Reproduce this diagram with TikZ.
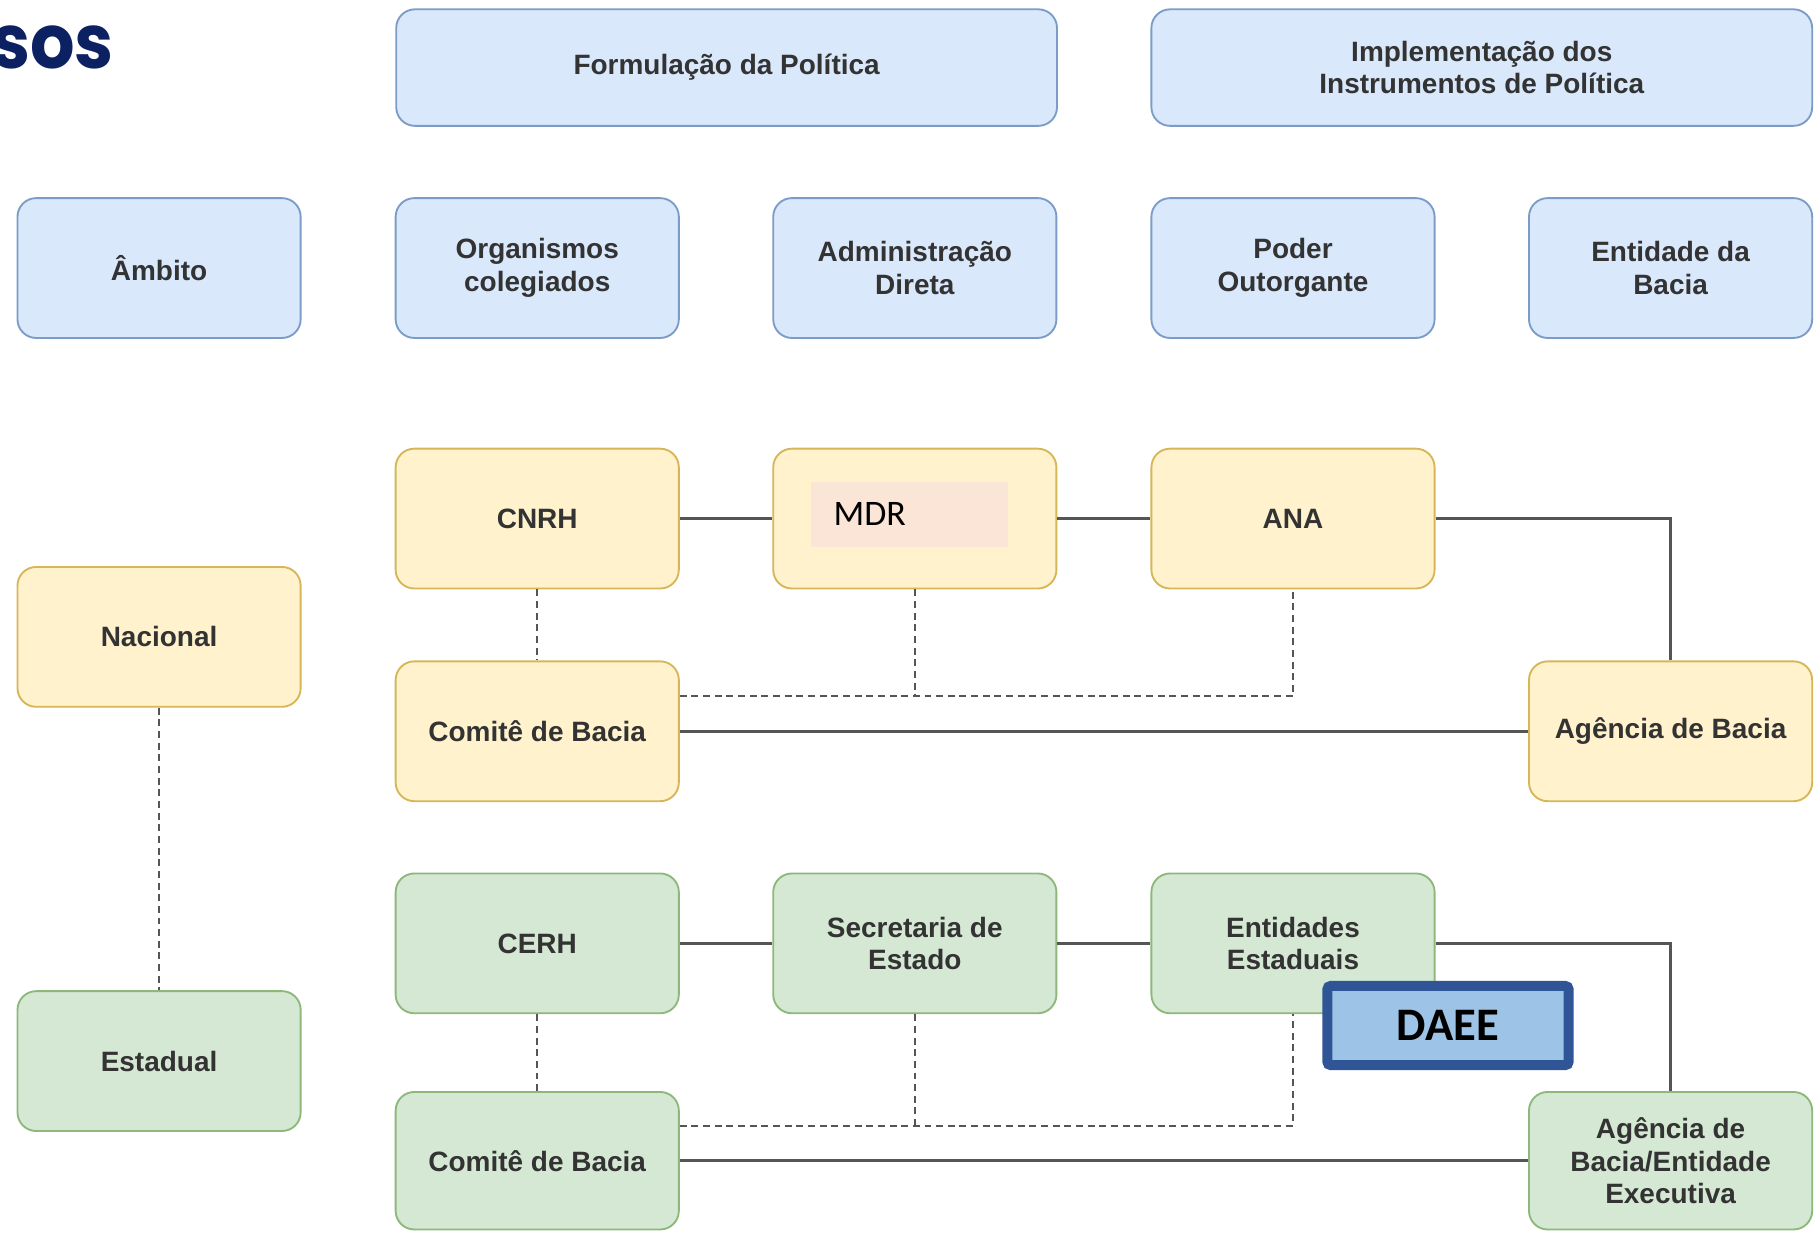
\documentclass[tikz,border=0pt]{standalone}
\usepackage{fontspec}
\setmainfont{Liberation Sans}
\newfontfamily\popfont{Poppins}
\newfontfamily\calfont{Carlito}
\usetikzlibrary{calc}
\definecolor{bfill}{HTML}{DAE8FC}
\definecolor{bdraw}{HTML}{7C9CC8}
\definecolor{yfill}{HTML}{FFF2CC}
\definecolor{ydraw}{HTML}{D6B656}
\definecolor{gfill}{HTML}{D5E8D4}
\definecolor{gdraw}{HTML}{8DB87A}
\definecolor{txt}{HTML}{333333}
\definecolor{lineC}{HTML}{555555}
\definecolor{mdrF}{HTML}{FBE5D6}
\definecolor{daeeB}{HTML}{2F5597}
\definecolor{daeeF}{HTML}{9DC3E6}
\definecolor{navy}{HTML}{0B2161}
\begin{document}
\begin{tikzpicture}[x=0.5pt,y=-0.5pt,
  box/.style={rounded corners=8pt, line width=0.8pt, minimum width=121.5pt, minimum height=60pt,
    align=center, inner sep=2pt, text=txt, font=\fontsize{12}{14}\selectfont\bfseries},
  blue/.style={box, fill=bfill, draw=bdraw},
  yel/.style={box, fill=yfill, draw=ydraw},
  grn/.style={box, fill=gfill, draw=gdraw},
  conn/.style={draw=lineC, line width=1.3pt},
  dsh/.style={draw=lineC, line width=1pt, dash pattern=on 3pt off 2pt}]
\useasboundingbox (0,0) rectangle (1560,1058);

% title fragment
\node[anchor=base west, inner sep=0pt, text=navy, yscale=1.08, font=\popfont\bfseries\fontsize{30}{36}\selectfont] (sos) at (-8,59) {sos};

% header row
\node[blue, minimum width=283.5pt, minimum height=50pt] (form) at (623.5,58) {Formulação da Política};
\node[blue, minimum width=283.5pt, minimum height=50pt] (impl) at (1271.5,58) {Implementação dos\\Instrumentos de Política};

% second row
\node[blue] (amb) at (136.5,230) {Âmbito};
\node[blue] (org) at (461,230) {Organismos\\colegiados};
\node[blue] (adm) at (785,230) {Administração\\Direta};
\node[blue] (pod) at (1109.5,230) {Poder\\Outorgante};
\node[blue] (entb) at (1433.5,230) {Entidade da\\Bacia};

% national
\node[yel] (cnrh) at (461,445) {CNRH};
\node[yel] (mdr) at (785,445) {};
\node[fill=mdrF, minimum width=84.5pt, minimum height=27.5pt, inner sep=0pt] (mdrin) at (780.5,441.5) {};
\node[anchor=base west, inner sep=0pt, font=\calfont\fontsize{15.4}{18}\selectfont] (mdrtxt) at (715,451) {MDR};
\node[yel] (ana) at (1109.5,445) {ANA};
\node[yel] (nac) at (136.5,546.5) {Nacional};
\node[yel] (comA) at (461,627.5) {Comitê de Bacia};
\node[yel] (agA) at (1433.5,627.5) {Agência de Bacia};

% state
\node[grn] (cerh) at (461,809.5) {CERH};
\node[grn] (sec) at (785,809.5) {Secretaria de\\Estado};
\node[grn] (ent) at (1109.5,809.5) {Entidades\\Estaduais};
\node[grn] (est) at (136.5,910.5) {Estadual};
\node[grn, minimum height=59pt] (comB) at (461,996) {Comitê de Bacia};
\node[grn, minimum height=59pt] (agB) at (1433.5,996) {Agência de\\Bacia/Entidade\\Executiva};

% connectors national
\draw[conn] (cnrh) -- (mdr);
\draw[conn] (mdr) -- (ana);
\draw[conn] (ana.east) -| (agA.north);
\draw[conn] (comA) -- (agA);
\draw[dsh] (cnrh) -- (comA);
\coordinate (dA) at ($(comA.east)+(0,-30)$);
\draw[dsh] (dA) -| (ana.south);
\draw[dsh] (mdr.south) -- (mdr.south |- dA);
\draw[dsh] (nac) -- (est);

% connectors state
\draw[conn] (cerh) -- (sec);
\draw[conn] (sec) -- (ent);
\draw[conn] (ent.east) -| (agB.north);
\draw[conn] (comB) -- (agB);
\draw[dsh] (cerh) -- (comB);
\coordinate (dB) at ($(comB.east)+(0,-30)$);
\draw[dsh] (dB) -| (ent.south);
\draw[dsh] (sec.south) -- (sec.south |- dB);

% DAEE
\node[draw=daeeB, fill=daeeF, line width=4.3pt, rounded corners=1.5pt, minimum width=103.5pt, minimum height=34pt,
  inner sep=0pt, font=\calfont\bfseries\fontsize{20}{24}\selectfont] (daee) at (1242.5,880) {DAEE};
\end{tikzpicture}
\end{document}
